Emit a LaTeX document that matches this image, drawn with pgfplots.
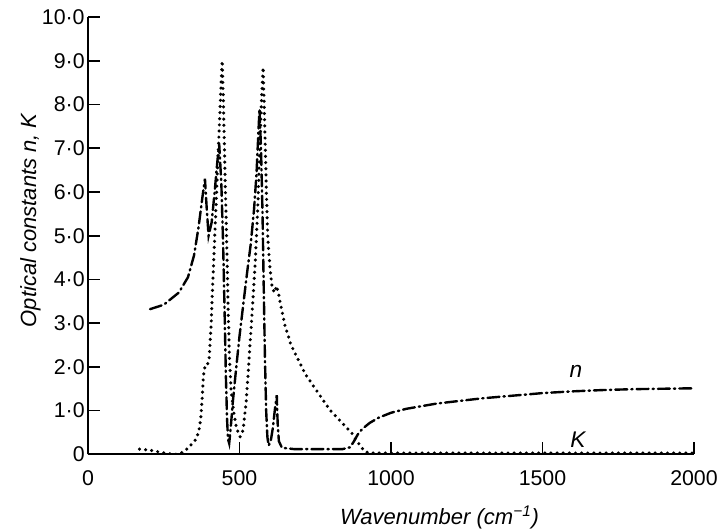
\documentclass[border=0pt]{standalone}
\usepackage{fontspec}
\setmainfont{Liberation Sans}
\usepackage{pgfplots}
\pgfplotsset{compat=1.18}

% refractive index n
\pgfplotstableread{
x y
205 3.32
250 3.42
300 3.70
330 4.05
350 4.55
365 5.2
378 5.9
386 6.3
392 5.6
398 5.0
408 5.3
418 6.0
427 6.7
433 7.1
440 6.2
446 4.8
451 3.2
455 1.8
459 0.8
462 0.35
466 0.25
471 0.6
478 1.2
488 1.9
500 2.7
512 3.4
525 4.15
537 4.8
548 5.6
556 6.4
562 7.3
566 7.9
571 7.0
576 5.5
580 3.8
584 2.2
588 1.0
592 0.4
596 0.2
603 0.3
610 0.6
618 1.1
623 1.35
626 0.7
630 0.3
640 0.15
680 0.12
760 0.12
840 0.12
865 0.16
878 0.3
890 0.45
905 0.58
930 0.72
960 0.84
1000 0.95
1050 1.04
1100 1.1
1150 1.16
1200 1.2
1300 1.28
1400 1.34
1500 1.4
1600 1.44
1700 1.47
1800 1.49
1900 1.5
2000 1.51
}\ndata

% extinction coefficient K
\pgfplotstableread{
x y
170 0.12
200 0.1
230 0.06
260 0.02
290 0.0
315 0.05
335 0.18
352 0.3
365 0.5
372 0.8
377 1.3
381 1.8
386 2.0
392 2.0
400 2.2
406 2.9
411 3.8
416 4.6
422 5.6
428 6.6
434 7.6
440 8.6
443 9.0
447 8.0
451 6.8
455 5.6
459 4.5
463 3.2
467 2.2
472 1.5
480 1.0
490 0.6
502 0.4
512 0.55
522 1.2
532 2.2
542 3.3
552 4.4
560 5.6
566 6.8
572 8.0
578 8.85
583 7.6
588 6.2
593 5.0
600 4.3
608 3.8
616 3.7
622 3.85
628 3.7
635 3.45
650 2.95
670 2.5
695 2.15
716 1.85
745 1.55
775 1.25
800 1.0
830 0.78
855 0.6
871 0.48
885 0.33
900 0.18
914 0.06
930 0.03
1000 0.03
1500 0.03
2000 0.03
}\kdata

\begin{document}
\begin{tikzpicture}
\begin{axis}[
  at={(0,0)}, anchor=south west,
  scale only axis,
  width=454.5pt, height=328pt,
  xmin=0, xmax=2000, ymin=0, ymax=10,
  axis lines=left,
  axis line style={-, line width=1.3pt},
  tick style={line width=1.3pt, black},
  tick align=inside,
  major tick length=9pt,
  xtick={0,500,1000,1500,2000},
  xticklabels={0,500,1000,1500,2000},
  ytick={0,1,...,10},
  yticklabels={0,1·0,2·0,3·0,4·0,5·0,6·0,7·0,8·0,9·0,10·0},
  ticklabel style={font=\fontsize{16}{19}\selectfont},
  xticklabel style={yshift=-9pt},
  yticklabel style={xshift=1pt},
  xlabel={\itshape Wavenumber (cm\textsuperscript{−1})},
  ylabel={\itshape Optical constants n, K},
  label style={font=\fontsize{16.5}{19}\selectfont},
  xlabel style={at={(axis description cs:0.58,0)}, anchor=north, yshift=-35pt},
  ylabel style={at={(axis description cs:0,0.535)}, anchor=south, yshift=32pt},
]
\addplot[black, line width=1.8pt, line cap=round,
  dash pattern=on 9pt off 3pt on 1pt off 3pt] table[x=x,y=y] {\ndata};
\addplot[black, line width=2.6pt, line cap=round,
  dash pattern=on 0pt off 4.6pt] table[x=x,y=y] {\kdata};
\node[font=\fontsize{17}{19}\selectfont\itshape] at (axis cs:1610,1.9) {n};
\node[font=\fontsize{17}{19}\selectfont\itshape] at (axis cs:1617,0.33) {K};
\end{axis}
\pgfresetboundingbox
\path[use as bounding box] (-66pt,-57pt) rectangle (475.5pt,340.75pt);
\end{tikzpicture}
\end{document}
